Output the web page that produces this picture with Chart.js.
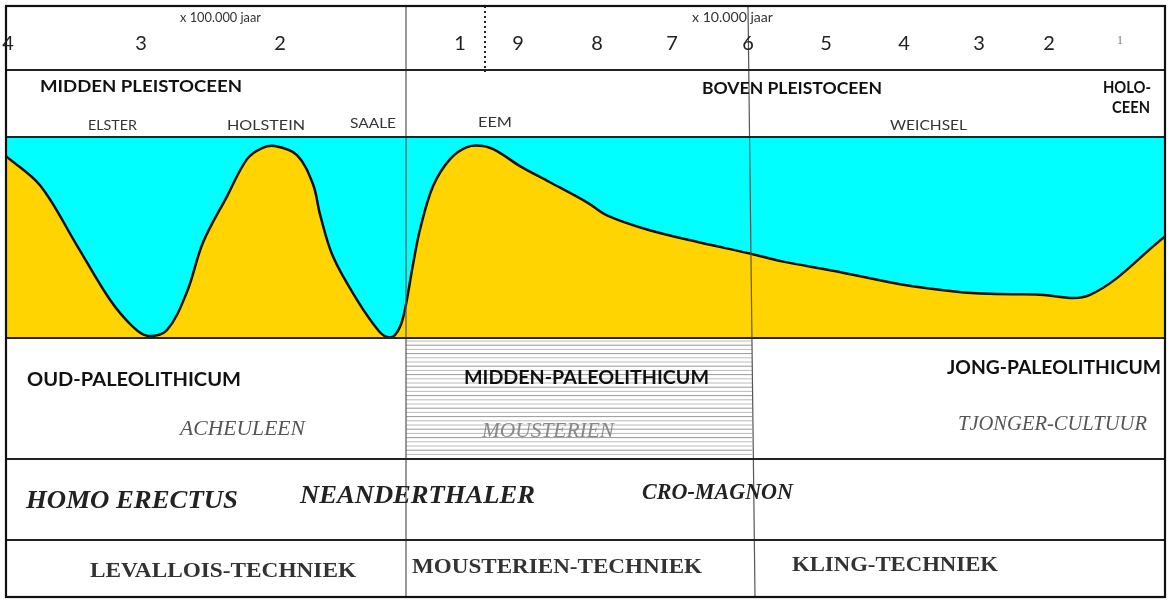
<!DOCTYPE html>
<html>
<head>
<meta charset="utf-8">
<script src="https://cdn.jsdelivr.net/npm/chart.js@4.4.1/dist/chart.umd.min.js"></script>
<style>
html,body{margin:0;padding:0;background:#fff}
canvas{display:block}
</style>
</head>
<body>
<canvas id="myChart" width="1171" height="601"></canvas>
<script>
// x = positie langs de tijdbalk, y = klimaat (0 = koud/ijstijd, 100 = warm)
var curveX = [0, 34, 71, 104, 127, 142, 161, 181, 197, 221, 241, 256, 269, 291, 307, 314, 327, 351, 372, 381, 389, 397,
              407, 414, 427, 444, 461, 477, 491, 514, 544, 581, 601, 641, 694, 744, 777, 827, 897, 951, 984, 1030, 1084, 1159];
var curveY = [90.5, 76, 46, 19, 5.5, 1, 4, 23, 47.5, 70.5, 89, 94.5, 95.5, 91, 76.5, 61.5, 40.5, 19, 4, 0.5, 1.5, 10,
              36.5, 54, 75.5, 89, 95, 95.5, 93, 85.5, 77.5, 67.5, 61, 54, 47.5, 42, 38, 33.5, 26.5, 23, 22, 21.7, 21.5, 50.5];

var tickLabels = ['4', '3', '2', '1', '9', '8', '7', '6', '5', '4', '3', '2', '1'];
var tickPos = [2, 135, 274, 454, 512, 591, 666, 742, 820, 898, 973, 1043, 1114];

// grenzen tussen de perioden (zelfde x-eenheid)
var splitX = [400, 742];
var breakX = 479;

var cyan = '#00FFFF';
var yellow = '#FFD400';

// tekst tussen x0 en x1 zetten, breedte passend maken
function label(c, txt, x0, x1, y, font, color) {
  c.save();
  c.font = font;
  c.fillStyle = color;
  c.textBaseline = 'middle';
  c.textAlign = 'left';
  var w = c.measureText(txt).width;
  c.translate(x0, y);
  c.scale((x1 - x0) / w, 1);
  c.fillText(txt, 0, 0);
  c.restore();
}

function hline(c, x0, x1, y, w, col) {
  c.beginPath();
  c.strokeStyle = col;
  c.lineWidth = w;
  c.moveTo(x0, y);
  c.lineTo(x1, y);
  c.stroke();
}

var tablePlugin = {
  id: 'table',
  beforeDraw: function(chart) {
    var c = chart.ctx, a = chart.chartArea;
    c.save();
    c.fillStyle = '#fff';
    c.fillRect(0, 0, chart.width, chart.height);
    c.fillStyle = cyan;
    c.fillRect(a.left, a.top, a.right - a.left, a.bottom - a.top);
    c.restore();
  },
  afterDraw: function(chart) {
    var c = chart.ctx, a = chart.chartArea;
    var xs = chart.scales.x;
    var L = 6, R = 1165, T = 6, B = 597;
    var row1 = 459, row2 = 540;
    var xa = xs.getPixelForValue(splitX[0]);
    var xb = xs.getPixelForValue(splitX[1]);

    c.save();
    // gearceerd vak midden-paleolithicum
    for (var y = a.bottom + 3; y < row1 - 1; y += 4.2) {
      hline(c, xa, xb + 4, y, 1, (Math.round(y) % 3 == 0) ? '#999' : '#bbb');
    }

    // verticale scheidingen
    c.strokeStyle = '#555';
    c.lineWidth = 1.2;
    c.beginPath();
    c.moveTo(xa, T); c.lineTo(xa, B);
    c.moveTo(xb, T); c.lineTo(xb + 7, B);
    c.stroke();

    // gestippelde breuk tussen de twee tijdschalen
    c.setLineDash([2, 3]);
    c.lineWidth = 2;
    c.strokeStyle = '#222';
    c.beginPath();
    c.moveTo(xs.getPixelForValue(breakX), T);
    c.lineTo(xs.getPixelForValue(breakX), 72);
    c.stroke();
    c.setLineDash([]);

    // horizontale lijnen
    hline(c, L, R, 70, 2.2, '#222');
    hline(c, L, R, a.top, 2.2, '#222');
    hline(c, L, R, a.bottom, 2.2, '#222');
    hline(c, L, R, row1, 2.2, '#222');
    hline(c, L, R, row2, 2.2, '#222');

    // kader
    c.strokeStyle = '#111';
    c.lineWidth = 2.2;
    c.strokeRect(L, T, R - L, B - T);

    // tijdas
    c.textAlign = 'center';
    c.textBaseline = 'middle';
    for (var i = 0; i < tickLabels.length; i++) {
      var last = i == tickLabels.length - 1;
      c.font = last ? '12px Liberation Serif' : '20px Lato';
      c.fillStyle = last ? '#777' : '#222';
      c.fillText(tickLabels[i], xs.getPixelForValue(tickPos[i]), last ? 41 : 44);
    }
    label(c, 'x 100.000 jaar', 180, 261, 18, '13px Lato', '#333');
    label(c, 'x 10.000 jaar', 692, 773, 18, '13px Lato', '#333');

    // perioden
    var sb = 'bold 17px Lato', sr = '13.5px Lato';
    label(c, 'MIDDEN PLEISTOCEEN', 40, 242, 87, sb, '#111');
    label(c, 'BOVEN PLEISTOCEEN', 702, 882, 89, sb, '#111');
    label(c, 'HOLO-', 1103, 1151, 88, sb, '#111');
    label(c, 'CEEN', 1112, 1150, 108, sb, '#111');
    label(c, 'ELSTER', 88, 137, 126, sr, '#333');
    label(c, 'HOLSTEIN', 227, 305, 126, sr, '#333');
    label(c, 'SAALE', 350, 396, 124, sr, '#333');
    label(c, 'EEM', 478, 512, 123, sr, '#333');
    label(c, 'WEICHSEL', 890, 967, 126, sr, '#333');

    // culturen
    var cb = 'bold 18px Lato', ci = 'italic 21px Liberation Serif';
    label(c, 'OUD-PALEOLITHICUM', 27, 241, 380, cb, '#111');
    label(c, 'MIDDEN-PALEOLITHICUM', 464, 709, 378, cb, '#111');
    label(c, 'JONG-PALEOLITHICUM', 947, 1161, 368, cb, '#111');
    label(c, 'ACHEULEEN', 180, 305, 429, ci, '#555');
    label(c, 'MOUSTERIEN', 482, 614, 431, ci, '#888');
    label(c, 'TJONGER-CULTUUR', 958, 1147, 424, ci, '#555');

    // mensen
    var hb = 'italic bold 25px Liberation Serif';
    label(c, 'HOMO ERECTUS', 26, 238, 502, hb, '#222');
    label(c, 'NEANDERTHALER', 300, 535, 497, hb, '#222');
    label(c, 'CRO-MAGNON', 642, 793, 493, 'italic bold 23px Liberation Serif', '#222');

    // technieken
    var tb = 'bold 20px Liberation Serif';
    label(c, 'LEVALLOIS-TECHNIEK', 90, 356, 572, tb, '#333');
    label(c, 'MOUSTERIEN-TECHNIEK', 412, 702, 568, tb, '#333');
    label(c, 'KLING-TECHNIEK', 792, 998, 566, tb, '#333');
    c.restore();
  }
};

var points = [];
for (var i = 0; i < curveX.length; i++) {
  points.push({x: curveX[i], y: curveY[i]});
}

var ctx = document.getElementById('myChart').getContext('2d');
var myChart = new Chart(ctx, {
  type: 'line',
  data: {
    datasets: [{
      label: 'klimaat',
      data: points,
      borderColor: '#111',
      borderWidth: 2.5,
      backgroundColor: yellow,
      fill: 'start',
      pointRadius: 0,
      tension: 0.35
    }]
  },
  options: {
    responsive: false,
    animation: false,
    events: [],
    layout: {padding: {top: 137, bottom: 263, left: 6, right: 6}},
    plugins: {legend: {display: false}, tooltip: {enabled: false}},
    scales: {
      x: {type: 'linear', display: false, min: 0, max: 1159},
      y: {display: false, min: 0, max: 100}
    }
  },
  plugins: [tablePlugin]
});
</script>
</body>
</html>
